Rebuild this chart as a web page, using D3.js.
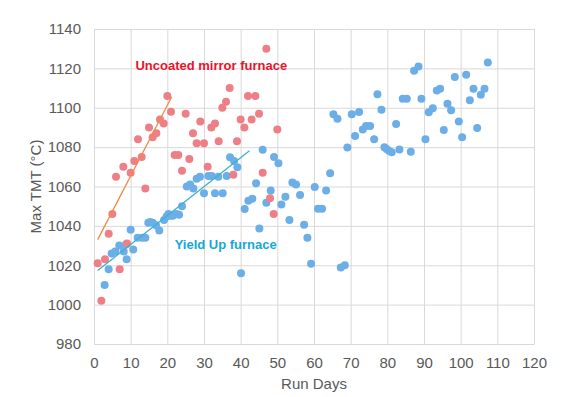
<!DOCTYPE html>
<html>
<head>
<meta charset="utf-8">
<script src="https://cdn.jsdelivr.net/npm/d3@7"></script>
<style>
  body { margin: 0; background: #fff; }
  svg { font-family: Arial, "Liberation Sans", sans-serif; }
</style>
</head>
<body>
<div id="chart"></div>
<script>
// values
var xTicks = [0, 10, 20, 30, 40, 50, 60, 70, 80, 90, 100, 110, 120];
var yTicks = [980, 1000, 1020, 1040, 1060, 1080, 1100, 1120, 1140];

var uncoatedDays = [1, 2, 3, 4, 5, 6, 7, 8, 9, 10, 11, 12, 13, 14, 15, 16, 17, 18, 19, 20,
    21, 22, 23, 24, 25, 26, 27, 28, 29, 30, 31, 32, 33, 34, 35, 36, 37, 38, 39, 40,
    41, 42, 43, 44, 45, 46, 47, 48, 49, 50];
var uncoatedTmt = [1021, 1002, 1023, 1036, 1046, 1065, 1018, 1070, 1031, 1067, 1073, 1084, 1075, 1059, 1090, 1085, 1087, 1094, 1092, 1106,
    1098, 1076, 1076, 1068, 1097, 1074, 1087, 1082, 1093, 1082, 1070, 1090, 1092, 1083, 1100, 1103, 1110, 1066, 1083, 1094,
    1090, 1106, 1094, 1106, 1097, 1067, 1130, 1054, 1046, 1089];

var yieldDays = [2.9, 4, 4.8, 5.8, 6.9, 8.1, 8.7, 8.9, 10, 10.7, 11.9, 13.1, 14, 14.8, 15.3, 16, 16.9, 17.8, 19.1, 19.8,
    20.3, 20.8, 21.5, 22.5, 23.2, 24, 25.3, 26.2, 27.1, 28, 28.9, 30, 31.2, 32.1, 33, 33.9, 35.1, 36.2, 37.1, 38.2,
    39.1, 40.1, 41.1, 42.1, 43.2, 44.2, 45.1, 46, 47, 48.2, 49.1, 50.3, 51.1, 52.2, 53.3, 54.1, 55.1, 56.2, 57.3, 58.2,
    59.2, 60.2, 61.1, 62.2, 63.3, 64.4, 65.3, 66.4, 67.3, 68.4, 69.1, 70.3, 71.2, 72.3, 73.3, 74.2, 75.3, 76.4, 77.3, 78.4,
    79.2, 79.8, 80.5, 81.2, 82.4, 83.3, 84.2, 85.3, 86.4, 87.3, 88.5, 89.3, 90.4, 91.3, 92.4, 93.5, 94.4, 95.4, 96.4, 97.4,
    98.4, 99.5, 100.4, 101.5, 102.5, 103.5, 104.5, 105.5, 106.5, 107.4];
var yieldTmt = [1010, 1018, 1026, 1027, 1030, 1027, 1030.5, 1023, 1038, 1028, 1034, 1034, 1034, 1041.6, 1042, 1041.6, 1040.3, 1037.6, 1043, 1044.7,
    1046, 1045.2, 1045.2, 1046, 1045.7, 1050, 1060, 1061, 1059, 1064, 1065, 1056.6, 1065.3, 1065.3, 1056.6, 1065, 1056.6, 1065.3, 1074.8, 1073,
    1069.8, 1016, 1048.6, 1052.8, 1053.8, 1061.6, 1038.7, 1078.7, 1051.8, 1058, 1075, 1071.8, 1050.8, 1054.8, 1043, 1062, 1061, 1055.7, 1040.6, 1034,
    1020.8, 1059.8, 1048.7, 1048.7, 1058, 1066.7, 1096.7, 1094.4, 1018.8, 1020, 1079.8, 1096.7, 1085.7, 1097.8, 1089, 1090.7, 1090.7, 1084, 1106.8, 1099,
    1080, 1079, 1078, 1077.4, 1091.8, 1078.8, 1104.6, 1104.6, 1077.6, 1118.8, 1120.9, 1104.6, 1084, 1097.7, 1099.7, 1108.7, 1109.7, 1088.7, 1102, 1098.7,
    1115.6, 1093, 1085, 1116.8, 1103.8, 1109.7, 1089.7, 1106.6, 1109.7, 1123];

// trend line end points
var uncoatedTrendDays = [1, 21.2];
var uncoatedTrendTmt = [1033, 1105.6];
var yieldTrendDays = [1, 42.4];
var yieldTrendTmt = [1017.3, 1078.2];

var W = 570, H = 397;
var margin = {left: 94, right: 36, top: 29, bottom: 53};
var width = W - margin.left - margin.right,
    height = H - margin.top - margin.bottom;

var svg = d3.select("#chart").append("svg")
    .attr("width", W)
    .attr("height", H);
var g = svg.append("g").attr("transform", "translate(" + margin.left + "," + margin.top + ")");

var x = d3.scaleLinear().domain([0, 120]).range([0, width]);
var y = d3.scaleLinear().domain([980, 1140]).range([height, 0]);

// grid
g.append("g").attr("class", "grid")
    .call(d3.axisLeft(y).tickValues(yTicks).tickSize(-width).tickFormat(""))
    .call(function(s) { s.select(".domain").remove(); });
g.append("g").attr("class", "grid")
    .attr("transform", "translate(0," + height + ")")
    .call(d3.axisBottom(x).tickValues(xTicks).tickSize(-height).tickFormat(""))
    .call(function(s) { s.select(".domain").remove(); });
g.selectAll(".grid line").attr("stroke", "#d9d9d9").attr("stroke-width", 1);

// axes
var yAxis = g.append("g")
    .call(d3.axisLeft(y).tickValues(yTicks).tickSize(0).tickPadding(13).tickFormat(d3.format("d")));
var xAxis = g.append("g")
    .attr("transform", "translate(0," + height + ")")
    .call(d3.axisBottom(x).tickValues(xTicks).tickSize(0).tickPadding(13).tickFormat(d3.format("d")));
[yAxis, xAxis].forEach(function(a) {
    a.select(".domain").attr("stroke", "#d9d9d9");
    a.selectAll("text")
        .style("font-family", "Arial, 'Liberation Sans', sans-serif")
        .style("font-size", "15px")
        .attr("fill", "#595959");
});

// points
g.selectAll(".yield")
    .data(yieldDays)
    .enter()
    .append("circle")
        .attr("class", "yield")
        .attr("cx", function(d) { return x(d); })
        .attr("cy", function(d, i) { return y(yieldTmt[i]); })
        .attr("r", 4)
        .style("fill", "#6caee8");

g.selectAll(".uncoated")
    .data(uncoatedDays)
    .enter()
    .append("circle")
        .attr("class", "uncoated")
        .attr("cx", function(d) { return x(d); })
        .attr("cy", function(d, i) { return y(uncoatedTmt[i]); })
        .attr("r", 4)
        .style("fill", "#ef7f87");

// trend lines
var line = d3.line()
    .x(function(d) { return x(d[0]); })
    .y(function(d) { return y(d[1]); });
g.append("path")
    .datum(d3.zip(uncoatedTrendDays, uncoatedTrendTmt))
    .attr("d", line)
    .attr("fill", "none")
    .attr("stroke", "#ee8a4a")
    .attr("stroke-width", 1.3);
g.append("path")
    .datum(d3.zip(yieldTrendDays, yieldTrendTmt))
    .attr("d", line)
    .attr("fill", "none")
    .attr("stroke", "#3fb0cf")
    .attr("stroke-width", 1.3);

// labels
g.append("text")
    .attr("x", x(11.3))
    .attr("y", y(1120) + 2)
    .style("font-size", "13px")
    .style("font-weight", "bold")
    .style("fill", "#e8142c")
    .text("Uncoated mirror furnace");
g.append("text")
    .attr("x", x(22))
    .attr("y", y(1031) + 5)
    .style("font-size", "13px")
    .style("font-weight", "bold")
    .style("fill", "#16a8d8")
    .text("Yield Up furnace");

svg.append("text")
    .attr("x", margin.left + width / 2)
    .attr("y", 389)
    .attr("text-anchor", "middle")
    .style("font-size", "15px")
    .style("fill", "#595959")
    .text("Run Days");
svg.append("text")
    .attr("transform", "translate(41," + (margin.top + height / 2) + ") rotate(-90)")
    .attr("text-anchor", "middle")
    .style("font-size", "15px")
    .style("fill", "#595959")
    .text("Max TMT (°C)");
</script>
</body>
</html>
